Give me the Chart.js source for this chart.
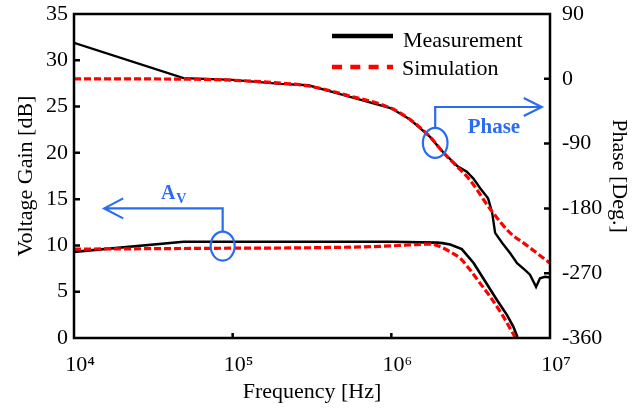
<!DOCTYPE html>
<html>
<head>
<meta charset="utf-8">
<script src="https://cdn.jsdelivr.net/npm/chart.js@4.4.1/dist/chart.umd.min.js"></script>
<style>
  html, body { margin: 0; padding: 0; background: #fff; }
</style>
</head>
<body>
<canvas id="bodeChart" width="643" height="408"></canvas>
<script>
// axis ticks
const xTicks = [1e4, 1e5, 1e6, 1e7];
const xTickLabels = ['10⁴', '10⁵', '10⁶', '10⁷'];

// voltage gain [dB]
const gainMeasFreq = [1e4, 4.9e4, 1e5, 3e5, 1e6, 1.94e6, 2.1e6, 2.35e6, 2.78e6, 3.3e6, 3.81e6, 4.63e6, 5.35e6, 5.88e6, 6.23e6];
const gainMeas     = [9.3, 10.4, 10.4, 10.4, 10.4, 10.3, 10.25, 10.1, 9.6, 8.1, 6.4, 4.1, 2.5, 1.2, 0.1];
const gainSimFreq  = [1e4, 1e5, 3.1e5, 8.5e5, 1.3e6, 1.76e6, 2.03e6, 2.35e6, 2.72e6, 3.14e6, 3.63e6, 4.2e6, 5.08e6, 6.03e6];
const gainSim      = [9.6, 9.7, 9.75, 9.9, 10.05, 10.15, 9.86, 9.32, 8.6, 7.34, 5.9, 4.46, 2.3, 0.07];

// phase [deg]
const phaseMeasFreq = [1e4, 4.9e4, 1e5, 2e5, 3e5, 5.5e5, 1e6, 1.32e6, 1.76e6, 2.12e6, 2.6e6, 2.99e6, 3.3e6, 3.63e6, 4.07e6, 4.32e6, 4.51e6, 5.0e6, 5.6e6, 6.2e6, 7.0e6, 7.48e6, 8.17e6, 8.65e6, 9.3e6, 1e7];
const phaseMeas     = [50, 1, -1.5, -7, -9, -25, -41, -57, -81, -102, -121, -129, -139, -152, -166, -186, -214, -228, -242, -256, -266, -272, -289, -277, -275, -276];
const phaseSimFreq  = [1e4, 5e4, 1e5, 2e5, 3e5, 5.5e5, 1e6, 1.32e6, 1.76e6, 2.12e6, 2.6e6, 3.14e6, 4.2e6, 5.6e6, 7e6, 1e7];
const phaseSim      = [0, -0.5, -2, -6, -10, -24, -41, -57, -81, -102, -122, -141, -181, -214, -230, -256];

const blue = '#2a6cf0';
const serif = "'Liberation Serif', 'Times New Roman', serif";

function pts(xs, ys) {
    return xs.map((x, i) => ({ x: x, y: ys[i] }));
}

// inward ticks + box around the plot
const framePlugin = {
    id: 'frame',
    afterDatasetsDraw(chart) {
        const { ctx, chartArea: a, scales } = chart;
        ctx.save();
        ctx.strokeStyle = '#000';
        ctx.lineWidth = 2.5;
        ctx.beginPath();
        scales.y.ticks.forEach(t => {
            if (t.value > 0 && t.value < 35) {
                const py = scales.y.getPixelForValue(t.value);
                ctx.moveTo(a.left, py);
                ctx.lineTo(a.left + 6, py);
            }
        });
        scales.y1.ticks.forEach(t => {
            if (t.value > -360 && t.value < 90) {
                const py = scales.y1.getPixelForValue(t.value);
                ctx.moveTo(a.right, py);
                ctx.lineTo(a.right - 6, py);
            }
        });
        [1e5, 1e6].forEach(v => {
            const px = scales.x.getPixelForValue(v);
            ctx.moveTo(px, a.bottom);
            ctx.lineTo(px, a.bottom - 5);
        });
        ctx.stroke();
        ctx.strokeRect(a.left, a.top, a.right - a.left, a.bottom - a.top);
        ctx.restore();
    }
};

// legend inside the plot, top right
const legendPlugin = {
    id: 'innerLegend',
    afterDraw(chart) {
        const { ctx, chartArea: a } = chart;
        const x0 = a.left + 258, x1 = a.left + 319;
        ctx.save();
        ctx.lineWidth = 4.5;
        ctx.strokeStyle = '#000';
        ctx.beginPath();
        ctx.moveTo(x0, a.top + 22);
        ctx.lineTo(x1, a.top + 22);
        ctx.stroke();
        ctx.strokeStyle = '#f00';
        ctx.setLineDash([10, 8.3]);
        ctx.beginPath();
        ctx.moveTo(x0, a.top + 53);
        ctx.lineTo(x1, a.top + 53);
        ctx.stroke();
        ctx.setLineDash([]);
        ctx.fillStyle = '#000';
        ctx.font = '22px ' + serif;
        ctx.textBaseline = 'alphabetic';
        ctx.fillText('Measurement', x1 + 10, a.top + 33);
        ctx.fillText('Simulation', x1 + 9, a.top + 61);
        ctx.restore();
    }
};

// blue callouts, anchored to data coordinates
const avMark = { f: 8.65e4, v: 9.93, arrowV: 14.0, tipF: 1.55e4, labelF: 3.53e4, labelV: 15.06 };
const phMark = { f: 1.89e6, v: -89, arrowV: -39.2, tipF: 8.87e6, labelF: 4.43e6, labelV: -74.9 };

const calloutPlugin = {
    id: 'callouts',
    afterDatasetsDraw(chart) {
        const { ctx, scales } = chart;
        const sx = scales.x, sy = scales.y, sp = scales.y1;
        ctx.save();
        ctx.strokeStyle = blue;
        ctx.fillStyle = blue;
        ctx.lineWidth = 2.2;

        // A_V callout
        let cx = sx.getPixelForValue(avMark.f), cy = sy.getPixelForValue(avMark.v);
        let ay = sy.getPixelForValue(avMark.arrowV), tx = sx.getPixelForValue(avMark.tipF);
        ctx.beginPath();
        ctx.ellipse(cx, cy, 12, 14.5, 0, 0, Math.PI * 2);
        ctx.stroke();
        ctx.beginPath();
        ctx.moveTo(cx, cy - 14.5);
        ctx.lineTo(cx, ay);
        ctx.lineTo(tx, ay);
        ctx.moveTo(tx + 19, ay - 10);
        ctx.lineTo(tx, ay);
        ctx.lineTo(tx + 19, ay + 10);
        ctx.stroke();
        const lx = sx.getPixelForValue(avMark.labelF), ly = sy.getPixelForValue(avMark.labelV);
        ctx.font = 'bold 20px ' + serif;
        ctx.fillText('A', lx, ly);
        const aw = ctx.measureText('A').width;
        ctx.font = 'bold 14px ' + serif;
        ctx.fillText('V', lx + aw + 1, ly + 4);

        // Phase callout
        cx = sx.getPixelForValue(phMark.f); cy = sp.getPixelForValue(phMark.v);
        ay = sp.getPixelForValue(phMark.arrowV); tx = sx.getPixelForValue(phMark.tipF);
        ctx.beginPath();
        ctx.ellipse(cx, cy, 12.3, 15, 0, 0, Math.PI * 2);
        ctx.stroke();
        ctx.beginPath();
        ctx.moveTo(cx, cy - 15);
        ctx.lineTo(cx, ay);
        ctx.lineTo(tx, ay);
        ctx.moveTo(tx - 18, ay - 9);
        ctx.lineTo(tx, ay);
        ctx.lineTo(tx - 18, ay + 9);
        ctx.stroke();
        ctx.font = 'bold 21px ' + serif;
        ctx.textAlign = 'center';
        ctx.fillText('Phase', sx.getPixelForValue(phMark.labelF), sp.getPixelForValue(phMark.labelV));
        ctx.restore();
    }
};

Chart.defaults.font.family = serif;
Chart.defaults.font.size = 22;
Chart.defaults.color = '#000';

function fixVertical(width) {
    return (axis) => {
        axis.width = width;
        axis.paddingTop = 0;
        axis.paddingBottom = 0;
    };
}

new Chart(document.getElementById('bodeChart'), {
    type: 'line',
    data: {
        datasets: [
            {
                label: 'Simulation',
                data: pts(gainSimFreq, gainSim),
                yAxisID: 'y',
                borderColor: '#f00',
                borderWidth: 3.2,
                borderDash: [7, 3],
                cubicInterpolationMode: 'monotone',
                order: 1
            },
            {
                label: 'Simulation',
                data: pts(phaseSimFreq, phaseSim),
                yAxisID: 'y1',
                borderColor: '#f00',
                borderWidth: 3.2,
                borderDash: [7, 3],
                cubicInterpolationMode: 'monotone',
                order: 1
            },
            {
                label: 'Measurement',
                data: pts(gainMeasFreq, gainMeas),
                yAxisID: 'y',
                borderColor: '#000',
                borderWidth: 2.6,
                order: 2
            },
            {
                label: 'Measurement',
                data: pts(phaseMeasFreq, phaseMeas),
                yAxisID: 'y1',
                borderColor: '#000',
                borderWidth: 2.4,
                order: 2
            }
        ]
    },
    options: {
        responsive: false,
        animation: false,
        elements: { point: { radius: 0 }, line: { tension: 0 } },
        layout: { padding: { top: 14, left: 0, right: 0, bottom: 0 } },
        plugins: { legend: { display: false }, tooltip: { enabled: false } },
        scales: {
            x: {
                type: 'logarithmic',
                position: 'bottom',
                min: 1e4,
                max: 1e7,
                afterBuildTicks: (axis) => { axis.ticks = xTicks.map(v => ({ value: v })); },
                afterFit: (axis) => { axis.height = 70; axis.paddingLeft = 0; axis.paddingRight = 0; },
                grid: { display: false, drawTicks: false },
                border: { display: false },
                ticks: {
                    autoSkip: false,
                    maxRotation: 0,
                    padding: 14,
                    labelOffset: 6,
                    callback: (v, i) => xTickLabels[i]
                },
                title: { display: true, text: 'Frequency [Hz]', padding: { top: 0, bottom: 3 } }
            },
            y: {
                position: 'left',
                min: 0,
                max: 35,
                afterFit: fixVertical(74),
                grid: { display: false, drawTicks: false },
                border: { display: false },
                ticks: { stepSize: 5, padding: 6 },
                title: { display: true, text: 'Voltage Gain [dB]', padding: { top: 13, bottom: 0 } }
            },
            y1: {
                position: 'right',
                min: -360,
                max: 90,
                afterFit: fixVertical(93),
                grid: { display: false, drawTicks: false },
                border: { display: false },
                ticks: { stepSize: 90, padding: 12 },
                title: { display: true, text: 'Phase [Deg.]', padding: { top: 11, bottom: 0 } }
            }
        }
    },
    plugins: [framePlugin, calloutPlugin, legendPlugin]
});
</script>
</body>
</html>
